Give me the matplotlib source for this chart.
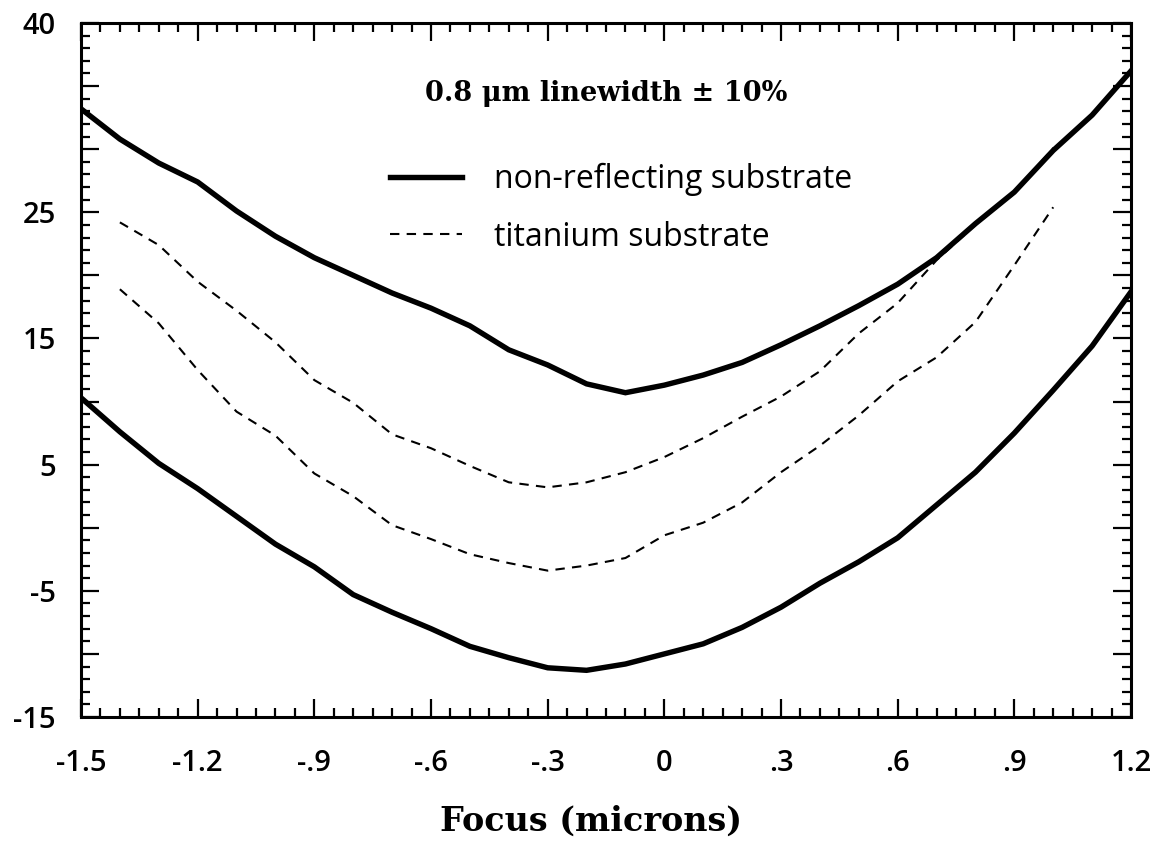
import matplotlib as mpl
import matplotlib.pyplot as plt
import numpy as np
from matplotlib.lines import Line2D
from matplotlib.ticker import MultipleLocator, FixedLocator

mpl.rcParams['font.family'] = ['Open Sans', 'DejaVu Sans']

# focus values (microns)
focus = [-1.5, -1.4, -1.3, -1.2, -1.1, -1.0, -0.9, -0.8, -0.7, -0.6, -0.5, -0.4, -0.3, -0.2,
         -0.1, 0.0, 0.1, 0.2, 0.3, 0.4, 0.5, 0.6, 0.7, 0.8, 0.9, 1.0, 1.1, 1.2]
focus_ti = [-1.4, -1.3, -1.2, -1.1, -1.0, -0.9, -0.8, -0.7, -0.6, -0.5, -0.4, -0.3, -0.2,
            -0.1, 0.0, 0.1, 0.2, 0.3, 0.4, 0.5, 0.6, 0.7, 0.8, 0.9, 1.0]

# non-reflecting substrate: upper / lower limits
nonref_upper = [33.2, 30.8, 28.9, 27.4, 25.1, 23.1, 21.4, 20.0, 18.6, 17.4, 16.0, 14.1, 12.9, 11.4,
                10.7, 11.3, 12.1, 13.1, 14.5, 16.0, 17.6, 19.3, 21.4, 24.1, 26.6, 29.9, 32.7, 36.2]
nonref_lower = [10.3, 7.6, 5.1, 3.1, 0.9, -1.3, -3.1, -5.3, -6.7, -8.0, -9.4, -10.3, -11.1, -11.3,
                -10.8, -10.0, -9.2, -7.9, -6.3, -4.4, -2.7, -0.8, 1.8, 4.4, 7.5, 10.9, 14.4, 18.7]

# titanium substrate: upper / lower limits
ti_upper = [24.2, 22.4, 19.5, 17.2, 14.7, 11.7, 9.9, 7.4, 6.3, 4.9, 3.6, 3.2, 3.6,
            4.4, 5.6, 7.1, 8.8, 10.4, 12.4, 15.4, 17.8, 21.2, 24.0, 26.5, 30.1]
ti_lower = [18.9, 16.2, 12.5, 9.2, 7.3, 4.3, 2.5, 0.2, -0.9, -2.1, -2.8, -3.4, -3.0,
            -2.4, -0.6, 0.4, 2.0, 4.4, 6.5, 8.9, 11.6, 13.5, 16.3, 20.8, 25.4]

xticks = [-1.5, -1.2, -0.9, -0.6, -0.3, 0.0, 0.3, 0.6, 0.9, 1.2]
xticklabels = ['-1.5', '-1.2', '-.9', '-.6', '-.3', '0', '.3', '.6', '.9', '1.2']
yticks = [-15, -10, -5, 0, 5, 10, 15, 20, 25, 30, 35, 40]
yticklabels = ['-15', '', '-5', '', '5', '', '15', '', '25', '', '', '40']

fig = plt.figure(figsize=(11.56, 8.43), dpi=100)
ax = fig.add_axes([81 / 1156, 1 - 717 / 843, 1050 / 1156, 694 / 843])

solid_kw = dict(color='black', linewidth=3.9, solid_joinstyle='miter')
dash_kw = dict(color='black', linewidth=1.5, linestyle=(0, (4.5, 3.5)))

ax.plot(focus, nonref_upper, **solid_kw)
ax.plot(focus, nonref_lower, **solid_kw)
ax.plot(focus_ti, ti_upper, **dash_kw)
ax.plot(focus_ti, ti_lower, **dash_kw)

ax.set_xlim(-1.5, 1.2)
ax.set_ylim(-15, 40)

ax.xaxis.set_major_locator(FixedLocator(xticks))
ax.set_xticklabels(xticklabels, fontweight='semibold')
ax.xaxis.set_minor_locator(MultipleLocator(0.05))
ax.yaxis.set_major_locator(FixedLocator(yticks))
ax.set_yticklabels(yticklabels, fontweight='semibold')
ax.yaxis.set_minor_locator(MultipleLocator(1))

ax.tick_params(which='both', direction='in', top=True, right=True, width=1.6, color='black')
ax.tick_params(which='major', length=13)
ax.tick_params(which='minor', length=6.5)
ax.tick_params(axis='x', which='major', labelsize=21, pad=23)
ax.tick_params(axis='y', which='major', labelsize=21, pad=18)
for s in ax.spines.values():
    s.set_linewidth(2.2)

ax.text(0.5, 0.898, u'0.8 \u03bcm linewidth \u00b1 10%', transform=ax.transAxes,
        ha='center', va='center', fontsize=19.5, fontweight='bold', family='DejaVu Serif')

handles = [Line2D([], [], **solid_kw), Line2D([], [], **dash_kw)]
leg = ax.legend(handles, ['non-reflecting substrate', 'titanium substrate'], loc='upper left',
                bbox_to_anchor=(0.294, 0.799), frameon=False, fontsize=23, handlelength=2.25,
                handletextpad=1.0, labelspacing=0.78, borderpad=0, borderaxespad=0)

ax.set_xlabel('Focus (microns)', fontsize=24, fontweight='bold', family='DejaVu Serif')
ax.xaxis.set_label_coords(0.486, -0.126)

plt.savefig('out.png', dpi=100)
plt.close('all')
